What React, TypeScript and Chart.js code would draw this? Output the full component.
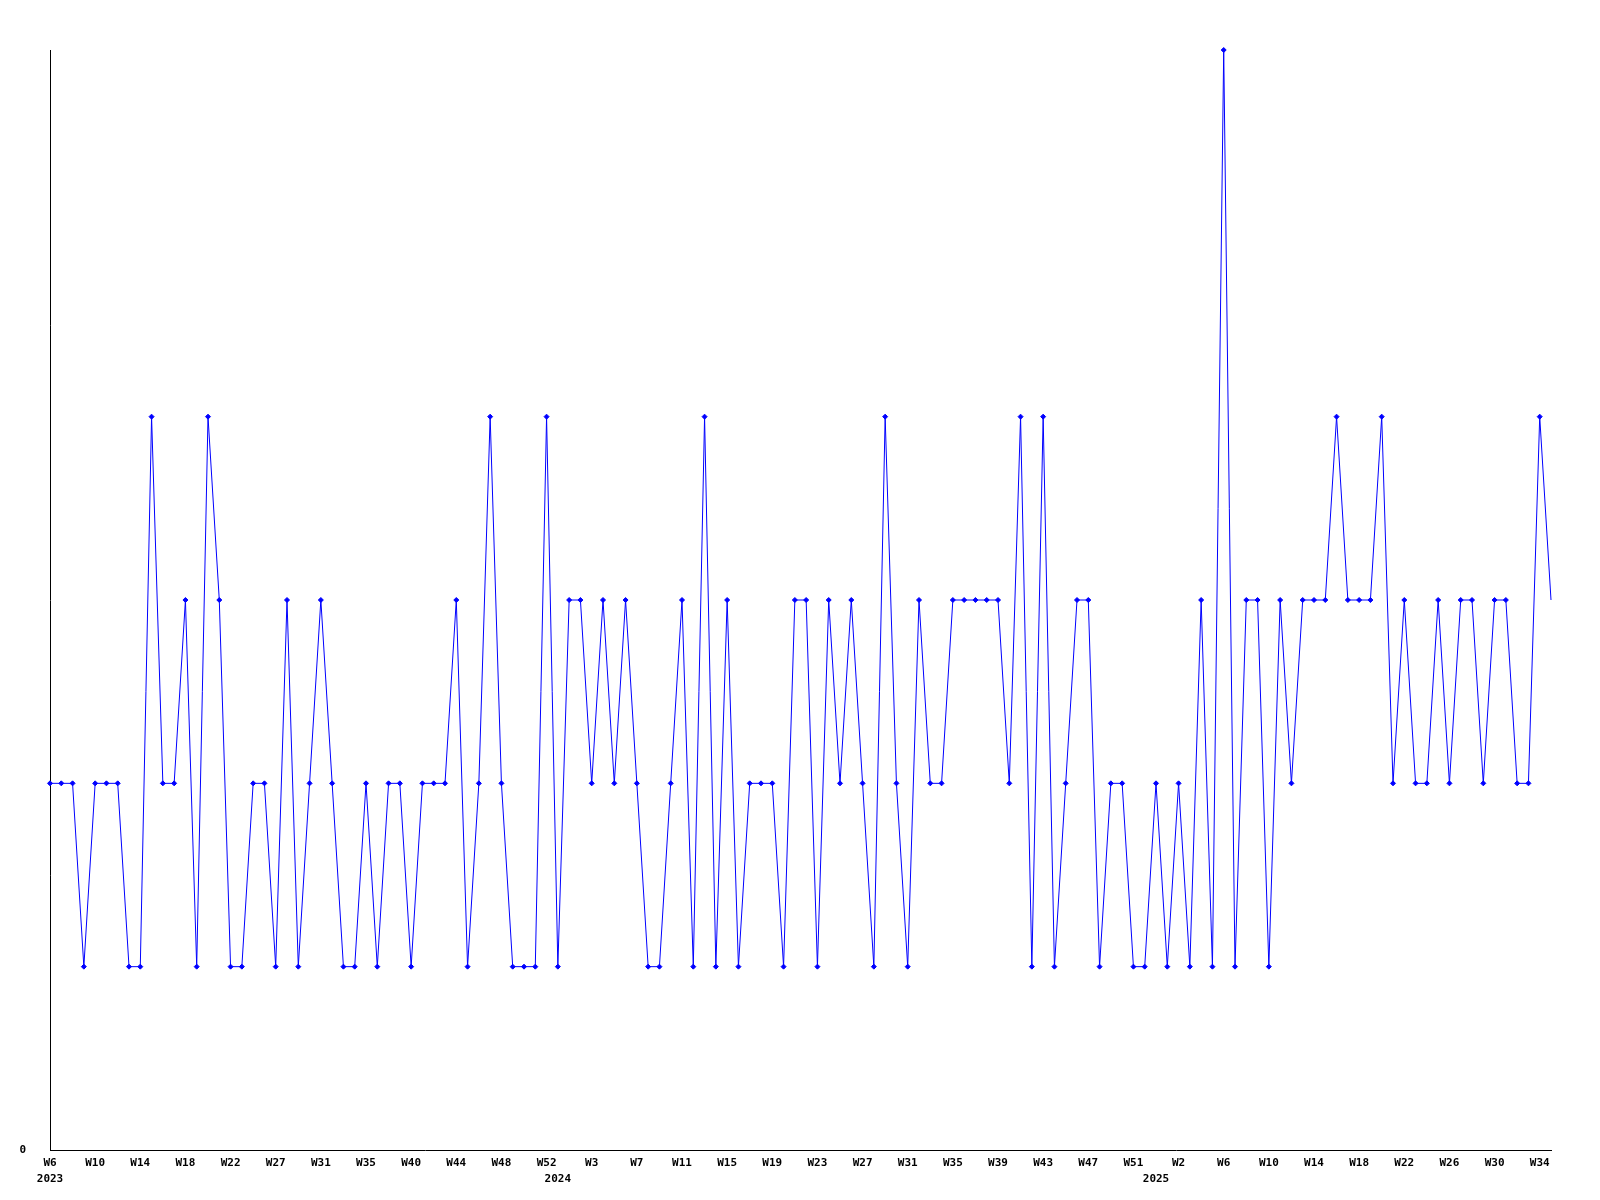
import React, { useEffect, useRef } from "react";
import { Chart, registerables } from "chart.js";

Chart.register(...registerables);

// Weekly values (one point per week slot)
const values: number[] = [
  2, 2, 2, 1, 2, 2, 2, 1, 1, 4,
  2, 2, 3, 1, 4, 3, 1, 1, 2, 2,
  1, 3, 1, 2, 3, 2, 1, 1, 2, 1,
  2, 2, 1, 2, 2, 2, 3, 1, 2, 4,
  2, 1, 1, 1, 4, 1, 3, 3, 2, 3,
  2, 3, 2, 1, 1, 2, 3, 1, 4, 1,
  3, 1, 2, 2, 2, 1, 3, 3, 1, 3,
  2, 3, 2, 1, 4, 2, 1, 3, 2, 2,
  3, 3, 3, 3, 3, 2, 4, 1, 4, 1,
  2, 3, 3, 1, 2, 2, 1, 1, 2, 1,
  2, 1, 3, 1, 6, 1, 3, 3, 1, 3,
  2, 3, 3, 3, 4, 3, 3, 3, 4, 2,
  3, 2, 2, 3, 2, 3, 3, 2, 3, 3,
  2, 2, 4, 3,
];

// Week tick labels, one for every 4th point
const weekTickLabels: string[] = [
  "W6", "W10", "W14", "W18", "W22", "W27", "W31", "W35", "W40", "W44",
  "W48", "W52", "W3", "W7", "W11", "W15", "W19", "W23", "W27", "W31",
  "W35", "W39", "W43", "W47", "W51", "W2", "W6", "W10", "W14", "W18",
  "W22", "W26", "W30", "W34",
];
const tickEvery = 4;

// Year labels and the point index they sit under
const yearLabels: string[] = ["2023", "2024", "2025"];
const yearIndices: number[] = [0, 45, 98];

const categories: string[] = values.map((_, i) =>
  i % tickEvery === 0 ? weekTickLabels[i / tickEvery] ?? "" : ""
);

const FONT = { family: "'DejaVu Sans Mono', monospace", size: 11, weight: "bold" as const, lineHeight: 1.45 };

export default function App() {
  const canvasRef = useRef<HTMLCanvasElement | null>(null);

  useEffect(() => {
    if (!canvasRef.current) return;
    const pointRadius = values.map((_, i) => (i === values.length - 1 ? 0 : 2.5));
    const chart = new Chart(canvasRef.current, {
      type: "line",
      data: {
        labels: categories,
        datasets: [
          {
            data: values,
            borderColor: "#0000ff",
            backgroundColor: "#0000ff",
            borderWidth: 1,
            tension: 0,
            fill: false,
            pointStyle: "rectRot",
            pointRadius,
            pointBorderWidth: 1,
            pointBackgroundColor: "#0000ff",
            pointBorderColor: "#0000ff",
            clip: false as any,
          },
        ],
      },
      options: {
        animation: false,
        responsive: true,
        maintainAspectRatio: false,
        layout: { padding: { left: 0, right: 49, top: 50, bottom: 0 } },
        plugins: {
          legend: { display: false },
          tooltip: { enabled: false },
          title: { display: false },
        },
        scales: {
          x: {
            type: "category",
            offset: false,
            grid: { display: false, drawTicks: false },
            border: { display: true, color: "#000000", width: 1 },
            ticks: {
              autoSkip: false,
              maxRotation: 0,
              minRotation: 0,
              padding: 5,
              color: "#000000",
              font: FONT,
              callback: (_value: any, index: number) => {
                const w = categories[index] ?? "";
                const yi = yearIndices.indexOf(index);
                if (yi >= 0) return [w, yearLabels[yi]];
                return w;
              },
            },
            afterFit: (scale: any) => {
              scale.height = 50;
            },
          },
          y: {
            type: "linear",
            min: 0,
            max: 6,
            grid: { display: false, drawTicks: false },
            border: { display: true, color: "#000000", width: 1 },
            ticks: {
              stepSize: 6,
              padding: 24,
              color: "#000000",
              font: FONT,
              callback: (v: any) => (v === 0 ? "0" : ""),
            },
            afterFit: (scale: any) => {
              scale.width = 50;
            },
          },
        },
      },
    });
    return () => chart.destroy();
  }, []);

  return (
    <div style={{ position: "absolute", left: 0, top: 0, width: 1600, height: 1200, background: "#ffffff" }}>
      <canvas ref={canvasRef} />
    </div>
  );
}
